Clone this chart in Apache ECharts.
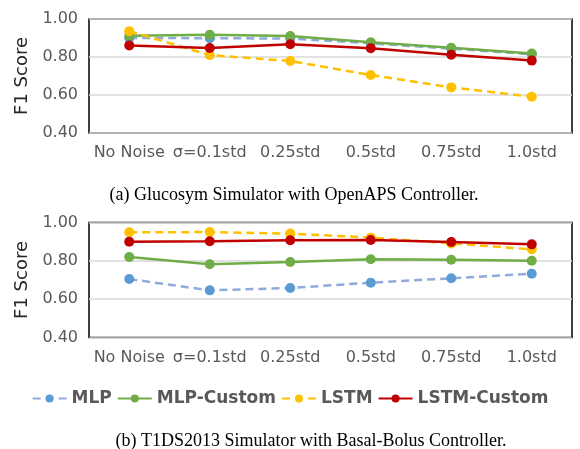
<!DOCTYPE html>
<html>
<head>
<meta charset="utf-8">
<script src="https://cdn.jsdelivr.net/npm/echarts@6/dist/echarts.min.js"></script>
<style>html,body{margin:0;padding:0;background:#fff;}#c{width:580px;height:449px;}</style>
</head>
<body>
<div id="c"></div>
<script>
var categories = ['No Noise', 'σ=0.1std', '0.25std', '0.5std', '0.75std', '1.0std'];
var seriesNames = ['MLP', 'MLP-Custom', 'LSTM', 'LSTM-Custom'];
var yTicks = [0.40, 0.60, 0.80, 1.00];

// (a) Glucosym Simulator with OpenAPS Controller
var a_MLP        = [0.900, 0.899, 0.897, 0.872, 0.844, 0.814];
var a_MLPCustom  = [0.912, 0.917, 0.910, 0.878, 0.849, 0.818];
var a_LSTM       = [0.936, 0.810, 0.779, 0.705, 0.640, 0.591];
var a_LSTMCustom = [0.861, 0.847, 0.867, 0.846, 0.812, 0.781];

// (b) T1DS2013 Simulator with Basal-Bolus Controller
var b_MLP        = [0.705, 0.646, 0.658, 0.686, 0.709, 0.733];
var b_MLPCustom  = [0.820, 0.782, 0.794, 0.808, 0.806, 0.800];
var b_LSTM       = [0.949, 0.950, 0.942, 0.921, 0.891, 0.860];
var b_LSTMCustom = [0.900, 0.902, 0.907, 0.909, 0.898, 0.886];

var captionA = '(a) Glucosym Simulator with OpenAPS Controller.';
var captionB = '(b) T1DS2013 Simulator with Basal-Bolus Controller.';
var yName = 'F1 Score';

var gray = '#595959';
var styles = {
  'MLP':         {line: '#8FAADC', item: '#5B9BD5', type: [8, 5]},
  'MLP-Custom':  {line: '#70AD47', item: '#70AD47', type: 'solid'},
  'LSTM':        {line: '#FFC000', item: '#FFC000', type: [8, 5]},
  'LSTM-Custom': {line: '#C00000', item: '#C00000', type: 'solid'}
};

function mkSeries(name, data, idx) {
  var s = styles[name];
  return {
    name: name, type: 'line', data: data,
    xAxisIndex: idx, yAxisIndex: idx,
    symbol: 'circle', symbolSize: 10,
    itemStyle: {color: s.item},
    lineStyle: {color: s.line, width: 2.5, type: s.type},
    emphasis: {disabled: true},
    animation: false
  };
}

function mkX(idx) {
  return {
    type: 'category', gridIndex: idx, data: categories, boundaryGap: true,
    axisLine: {show: false}, axisTick: {show: false},
    axisLabel: {color: gray, fontSize: 16, fontFamily: 'DejaVu Sans', margin: 12, interval: 0}
  };
}
function mkY(idx) {
  return {
    type: 'value', gridIndex: idx, min: yTicks[0], max: yTicks[yTicks.length - 1], interval: 0.2,
    name: yName, nameLocation: 'middle', nameRotate: 90, nameGap: 57,
    nameTextStyle: {color: '#262626', fontSize: 18, fontFamily: 'DejaVu Sans'},
    axisLine: {show: false}, axisTick: {show: false},
    axisLabel: {color: gray, fontSize: 16, fontFamily: 'DejaVu Sans', margin: 11,
      formatter: function (v) { return v.toFixed(2); }},
    splitLine: {show: true, lineStyle: {color: '#D9D9D9', width: 1.5}}
  };
}

var chart = echarts.init(document.getElementById('c'), null, {renderer: 'canvas'});
chart.setOption({
  backgroundColor: '#fff',
  animation: false,
  title: [
    {text: captionA, left: 289, top: 181, textAlign: 'center',
     textStyle: {fontFamily: 'Liberation Serif', fontSize: 18, fontWeight: 'normal', color: '#000'}},
    {text: captionB, left: 306, top: 427, textAlign: 'center',
     textStyle: {fontFamily: 'Liberation Serif', fontSize: 18, fontWeight: 'normal', color: '#000'}}
  ],
  legend: {
    data: seriesNames, left: 'center', top: 385,
    itemWidth: 34, itemHeight: 10, itemGap: 5,
    textStyle: {color: gray, fontSize: 17, fontWeight: 'bold', fontFamily: 'DejaVu Sans'}
  },
  grid: [
    {left: 89, right: 8, top: 19, height: 114, show: true, borderColor: '#000', borderWidth: 1.5, backgroundColor: 'transparent'},
    {left: 89, right: 8, top: 222.5, height: 115, show: true, borderColor: '#000', borderWidth: 1.5, backgroundColor: 'transparent'}
  ],
  xAxis: [mkX(0), mkX(1)],
  yAxis: [mkY(0), mkY(1)],
  series: [
    mkSeries('MLP', a_MLP, 0),
    mkSeries('MLP-Custom', a_MLPCustom, 0),
    mkSeries('LSTM', a_LSTM, 0),
    mkSeries('LSTM-Custom', a_LSTMCustom, 0),
    mkSeries('MLP', b_MLP, 1),
    mkSeries('MLP-Custom', b_MLPCustom, 1),
    mkSeries('LSTM', b_LSTM, 1),
    mkSeries('LSTM-Custom', b_LSTMCustom, 1)
  ]
});
</script>
</body>
</html>
